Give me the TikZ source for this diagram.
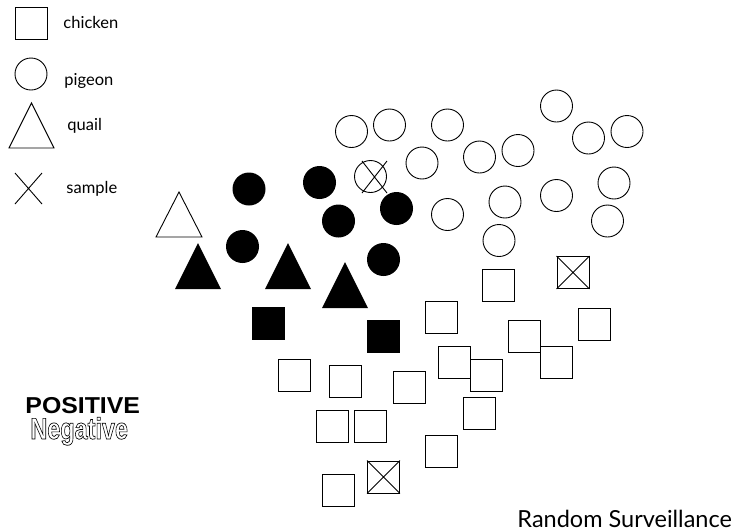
\documentclass[tikz,border=0pt]{standalone}
\usepackage{fontspec}
\setmainfont{Lato}
\newfontfamily\arialfont{Liberation Sans}
\newcommand\outlinetext[1]{\special{pdf:code q 1 Tr 0.7 w}#1\special{pdf:code Q}}
\begin{document}
\begin{tikzpicture}[x=1pt,y=-1pt,
  line width=0.9pt,
  oc/.style={circle,draw,minimum size=32pt,inner sep=0pt},
  fc/.style={circle,fill=black,minimum size=33pt,inner sep=0pt},
  osq/.style={rectangle,draw,minimum size=32pt,inner sep=0pt},
  fsq/.style={rectangle,fill=black,minimum size=33pt,inner sep=0pt},
  lbl/.style={anchor=base west,inner sep=0pt,font=\fontsize{16.5}{18}\selectfont}]
\useasboundingbox (0,0) rectangle (737,531);

% legend
\node[osq] (lsq) at (31.5,23) {};
\node[oc] (lci) at (31,74) {};
\coordinate (ltri) at (31.5,103);
\draw (ltri) -- ++(22.5,45) -- ++(-45,0) -- cycle;
\coordinate (lx) at (28.5,188.5);
\draw (lx) ++(-13.5,-15.5) -- ++(27,31) (lx) ++(13.5,-15.5) -- ++(-27,31);
\node[lbl] (tch) at (63,28) {chicken};
\node[lbl] (tpi) at (64,85) {pigeon};
\node[lbl] (tqu) at (67,130) {quail};
\node[lbl] (tsa) at (66,193) {sample};

% open circles (pigeons)
\node[oc] (oc1) at (351.5,131.5) {};
\node[oc] (oc2) at (389.5,125) {};
\node[oc] (oc3) at (447.5,125) {};
\node[oc] (oc4) at (422,163) {};
\node[oc] (oc5) at (479.5,157) {};
\node[oc] (oc6) at (518,150.5) {};
\node[oc] (oc7) at (556.5,106) {};
\node[oc] (oc8) at (588.5,138) {};
\node[oc] (oc9) at (627,131.5) {};
\node[oc] (oc10) at (447.5,214.5) {};
\node[oc] (oc11) at (505,202) {};
\node[oc] (oc12) at (556.5,195.5) {};
\node[oc] (oc13) at (614,183) {};
\node[oc] (oc14) at (607.5,221) {};
\node[oc] (oc15) at (499,240.5) {};
% sampled pigeon
\node[oc] (xc) at (370.5,176.5) {};
\draw (xc) ++(-8.5,-15.5) -- ++(25,32) (xc) ++(16.5,-15.5) -- ++(-25,32);

% filled circles
\node[fc] (fc1) at (249,189) {};
\node[fc] (fc2) at (319.5,182.5) {};
\node[fc] (fc3) at (338.5,221) {};
\node[fc] (fc4) at (396.5,208.5) {};
\node[fc] (fc5) at (242.5,246.5) {};
\node[fc] (fc6) at (383.5,259.5) {};

% quails
\coordinate (ot1) at (179,192);
\draw (ot1) -- ++(23,45) -- ++(-46,0) -- cycle;
\coordinate (ft1) at (198,243);
\coordinate (ft2) at (288,243);
\coordinate (ft3) at (345,262);
\fill (ft1) -- ++(23,46) -- ++(-46,0) -- cycle;
\fill (ft2) -- ++(23,46) -- ++(-46,0) -- cycle;
\fill (ft3) -- ++(23,46) -- ++(-46,0) -- cycle;

% filled squares
\node[fsq] (fs1) at (268.5,323.5) {};
\node[fsq] (fs2) at (383.5,336.5) {};

% open squares (chickens)
\node[osq] (os1) at (498.5,285.5) {};
\node[osq] (os2) at (441,317) {};
\node[osq] (os3) at (524,336) {};
\node[osq] (os4) at (594.5,324) {};
\node[osq] (os5) at (556,362) {};
\node[osq] (os6) at (454,362) {};
\node[osq] (os7) at (486,375) {};
\node[osq] (os8) at (294,375) {};
\node[osq] (os9) at (345,381) {};
\node[osq] (os10) at (409,387.5) {};
\node[osq] (os11) at (479.5,413) {};
\node[osq] (os12) at (332,426) {};
\node[osq] (os13) at (370.5,426) {};
\node[osq] (os14) at (441,451.5) {};
\node[osq] (os15) at (338.5,490) {};
% sampled chickens
\node[osq] (xs1) at (573,272.5) {};
\node[osq] (xs2) at (383.5,477) {};
\draw (xs1.north west) -- (xs1.south east) (xs1.north east) -- (xs1.south west);
\draw (xs2.north west) -- (xs2.south east) (xs2.north east) -- (xs2.south west);

% texts
\node[anchor=base west,inner sep=0pt,font=\arialfont\bfseries\fontsize{23}{26}\selectfont] (pos) at (25,413) {\scalebox{1.08}[1]{POSITIVE}};
\node[anchor=base west,inner sep=0pt,text height=21pt,font=\arialfont\bfseries\fontsize{30}{32}\selectfont] (neg) at (30,439) {\scalebox{0.78}[1]{\outlinetext{Negative}}};
\node[anchor=base west,inner sep=0pt,font=\fontsize{23.5}{26}\selectfont] (rs) at (517,527) {Random Surveillance};
\end{tikzpicture}
\end{document}
